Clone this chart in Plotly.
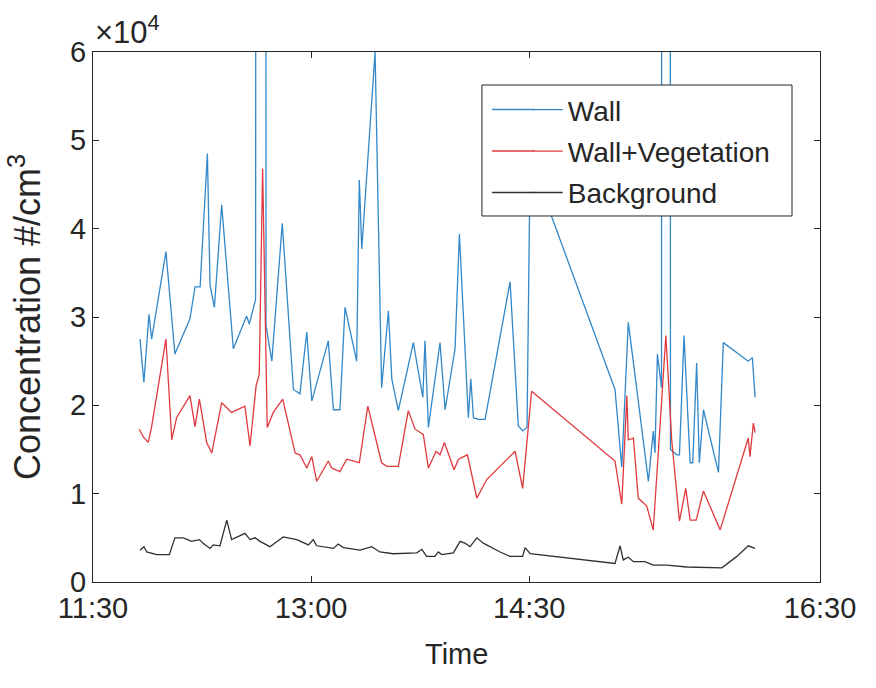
import numpy as np
import pandas as pd
import plotly.graph_objects as go

# ---- data (minutes after 11:30, concentration in units of 1e4 #/cm^3) ----
wall_min = [19.4, 21.0, 23.1, 24.2, 30.1, 33.8, 40.0, 42.1, 44.2, 47.2, 48.3, 50.1, 53.1, 57.9,
            63.4, 64.5, 67.1, 67.6, 71.0, 71.4, 73.8, 78.1, 82.7, 85.4, 88.2, 90.3, 97.1, 99.2,
            101.9, 104.0, 108.8, 109.9, 110.9, 116.4, 119.1, 121.9, 123.3, 126.0, 132.2, 136.1,
            137.0, 138.4, 143.2, 145.3, 149.4, 151.2, 154.9, 155.9, 157.0, 159.0, 161.8, 172.1,
            175.5, 177.3, 179.1, 180.4, 215.4, 218.2, 220.9, 222.7, 229.2, 231.2, 231.9, 232.9,
            234.6, 235.1, 237.8, 238.3, 240.9, 242.0, 243.9, 246.4, 247.5, 249.1, 250.2, 251.9,
            258.1, 260.1, 270.4, 272.1, 273.2]
wall_val = [2.75, 2.26, 3.03, 2.75, 3.74, 2.58, 2.98, 3.34, 3.34, 4.85, 3.36, 3.11, 4.27, 2.64,
            3.01, 2.92, 3.20, 40.0, 40.0, 2.90, 2.50, 4.06, 2.18, 2.13, 2.83, 2.05, 2.73, 1.95,
            1.95, 3.11, 2.50, 4.55, 3.77, 6.00, 2.20, 3.07, 2.30, 1.94, 2.71, 2.09,
            2.73, 1.75, 2.71, 1.95, 2.64, 3.94, 1.86, 2.30, 1.86, 1.84, 1.84, 3.40,
            1.77, 1.71, 1.75, 4.80, 2.18, 1.30, 2.94, 2.54, 1.14, 1.71, 1.46, 2.58,
            2.20, 40.0, 40.0, 1.50, 1.44, 1.44, 2.79, 1.35, 1.35, 2.48, 1.35, 1.95,
            1.24, 2.71, 2.50, 2.54, 2.09]

veg_min = [19.1, 20.8, 22.8, 24.2, 30.1, 32.5, 34.5, 40.0, 42.1, 43.9, 46.9, 49.0, 53.1, 57.2,
           62.7, 64.8, 67.3, 68.6, 70.0, 71.9, 74.4, 78.3, 83.4, 85.4, 88.2, 90.3, 92.3, 97.1,
           98.5, 101.9, 104.7, 109.9, 113.4, 119.1, 121.2, 126.0, 130.1, 132.9, 136.3, 138.4,
           141.6, 143.2, 145.0, 149.0, 150.8, 154.5, 158.4, 162.5, 174.2, 177.3, 181.0, 215.4,
           218.2, 220.3, 220.9, 223.0, 225.0, 228.5, 231.2, 236.4, 238.8, 242.0, 244.6, 246.4,
           248.9, 251.9, 258.8, 270.4, 271.1, 272.5, 273.2]
veg_val = [1.73, 1.64, 1.58, 1.76, 2.75, 1.61, 1.86, 2.11, 1.76, 2.07, 1.58, 1.46, 2.03, 1.92,
           1.99, 1.54, 2.22, 2.35, 4.68, 1.75, 1.92, 2.07, 1.46, 1.44, 1.29, 1.42, 1.14, 1.37,
           1.29, 1.25, 1.39, 1.35, 1.99, 1.35, 1.31, 1.31, 1.94, 1.73, 1.67, 1.29,
           1.48, 1.44, 1.58, 1.27, 1.39, 1.44, 0.95, 1.16, 1.48, 1.06, 2.16, 1.37,
           0.88, 2.11, 1.61, 1.63, 0.95, 0.86, 0.59, 2.79, 1.61, 0.69, 1.06, 0.70,
           0.70, 1.03, 0.59, 1.63, 1.42, 1.80, 1.69]

bg_min = [19.4, 21.0, 22.2, 26.3, 31.5, 33.8, 37.3, 40.7, 43.9, 45.3, 48.3, 49.6, 52.4, 55.2,
          57.2, 59.0, 62.7, 64.8, 66.9, 68.9, 73.0, 78.5, 84.1, 88.9, 90.9, 92.3, 96.4, 99.2,
          101.2, 103.3, 110.2, 115.0, 118.4, 123.9, 133.6, 135.7, 137.7, 141.1, 142.5, 143.9,
          148.7, 151.5, 153.5, 155.6, 158.4, 161.1, 168.0, 172.1, 177.3, 178.3, 180.4, 215.4,
          217.5, 218.8, 220.9, 223.0, 227.8, 231.2, 236.8, 245.0, 259.5, 265.7, 270.4, 273.2]
bg_val = [0.36, 0.40, 0.34, 0.31, 0.31, 0.50, 0.50, 0.46, 0.48, 0.44, 0.38, 0.42, 0.41, 0.70,
          0.48, 0.50, 0.55, 0.48, 0.50, 0.46, 0.40, 0.51, 0.48, 0.42, 0.48, 0.41, 0.39, 0.38,
          0.43, 0.39, 0.36, 0.40, 0.34, 0.32, 0.33, 0.37, 0.29, 0.29, 0.34, 0.31,
          0.33, 0.46, 0.44, 0.40, 0.50, 0.44, 0.34, 0.29, 0.29, 0.39, 0.32, 0.21,
          0.41, 0.25, 0.28, 0.23, 0.23, 0.19, 0.19, 0.17, 0.16, 0.29, 0.41, 0.38]

series_names = ["Wall", "Wall+Vegetation", "Background"]
series_colors = ["#3288c8", "#e0393e", "#303030"]
tick_times = ["11:30", "13:00", "14:30", "16:30"]
ytick_vals = [0, 1, 2, 3, 4, 5, 6]
scale = 1e4

base = pd.Timestamp("2020-01-01 11:30")
def to_time(mins):
    return [base + pd.Timedelta(minutes=m) for m in mins]

FONT = "Liberation Sans, Arial, Helvetica, sans-serif"
TXT = "#262626"

fig = go.Figure()
for name, col, mins, vals, grp in zip(series_names, series_colors,
                                      [wall_min, veg_min, bg_min],
                                      [wall_val, veg_val, bg_val], ["a", "b", "c"]):
    fig.add_trace(go.Scatter(x=to_time(mins), y=np.array(vals) * scale, mode="lines",
                             name=name, line=dict(color=col, width=1.3), legendgroup=grp))

tickx = [pd.Timestamp("2020-01-01 " + t) for t in tick_times]
fig.update_xaxes(range=[tickx[0], tickx[-1]], tickvals=tickx, ticktext=tick_times,
                 showgrid=False, zeroline=False, showline=True, linecolor=TXT, linewidth=1,
                 mirror="ticks", ticks="inside", ticklen=6, tickcolor=TXT,
                 tickfont=dict(family=FONT, size=29, color=TXT))
fig.update_yaxes(range=[0, 6 * scale], tickvals=[v * scale for v in ytick_vals],
                 ticktext=[str(v) for v in ytick_vals],
                 showgrid=False, zeroline=False, showline=True, linecolor=TXT, linewidth=1,
                 mirror="ticks", ticks="inside", ticklen=6, tickcolor=TXT,
                 tickfont=dict(family=FONT, size=29, color=TXT))

# legend frame (MATLAB-style box, opaque over the data)
leg_x0, leg_x1, leg_y0, leg_y1 = 0.535, 0.9615, 0.6906, 0.9377
shapes = [dict(type="rect", xref="paper", yref="paper", x0=leg_x0, x1=leg_x1,
               y0=leg_y0, y1=leg_y1, fillcolor="white", line=dict(color=TXT, width=1),
               layer="above")]
# extend the legend line samples to MATLAB's longer sample length
row_y = [0.8915, 0.8132, 0.7349]
for col, ry in zip(series_colors, row_y):
    shapes.append(dict(type="line", xref="paper", yref="paper", x0=0.549, x1=0.607,
                       y0=ry, y1=ry, line=dict(color=col, width=1.3), layer="above"))

fig.update_layout(
    width=876, height=688, margin=dict(l=93, r=56, t=52, b=106),
    paper_bgcolor="white", plot_bgcolor="white",
    font=dict(family=FONT, color=TXT),
    shapes=shapes,
    legend=dict(x=0.598, y=0.9377, xanchor="left", yanchor="top",
                bgcolor="rgba(0,0,0,0)", borderwidth=0,
                font=dict(family=FONT, size=28, color=TXT),
                traceorder="grouped", tracegroupgap=2),
    annotations=[
        dict(text="Time", xref="paper", yref="paper", x=0.5, y=-0.101, xanchor="center",
             yanchor="top", showarrow=False, font=dict(family=FONT, size=29, color=TXT)),
        dict(text="Concentration #/cm<sup>3</sup>", xref="paper", yref="paper",
             x=-0.059, y=0.5, xanchor="right", yanchor="middle", textangle=-90,
             showarrow=False, font=dict(family=FONT, size=36, color=TXT)),
        dict(text="×10<sup>4</sup>", xref="paper", yref="paper", x=0.0, y=1.0,
             xanchor="left", yanchor="bottom", showarrow=False,
             font=dict(family=FONT, size=31, color=TXT)),
    ],
)

fig.write_html("out.html")
